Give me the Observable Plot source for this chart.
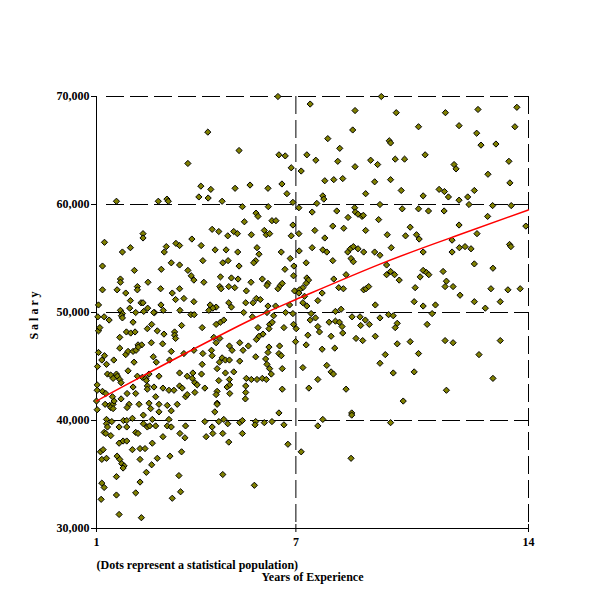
<!DOCTYPE html>
<html>
<head>
<meta charset="utf-8">
<script src="https://cdn.jsdelivr.net/npm/d3@7"></script>
<script src="https://cdn.jsdelivr.net/npm/@observablehq/plot@0.6"></script>
<style>
  body { margin: 0; background: white; }
</style>
</head>
<body>
<div id="chart"></div>
<script>
// [years of experience, salary]
const points = [
  [1.60,60300],[2.86,60300],[3.12,60500],[3.16,60300],[3.75,63800],[4.14,61700],[4.44,61400],[4.08,60700],[4.36,60600],[4.78,60300],
  [4.35,66700],[5.17,61500],[2.40,57300],[4.48,57700],[4.68,57500],[4.95,57100],[5.13,57500],
  [1.24,56500],[2.40,56900],[3.87,56800],[3.39,56400],[3.50,56200],[4.15,56200],[3.10,56100],[3.04,55600],[2.02,56000],[1.78,55600],
  [4.57,55800],[4.90,55800],[5.25,55600],[1.18,54300],[2.14,53900],[2.95,54000],[3.25,54600],[3.50,54400],[4.20,54800],[4.80,54600],
  [4.96,54800],[3.75,53900],[3.85,53400],[3.93,53000],[4.23,52800],[1.72,53100],[1.72,52800],[2.55,52800],[4.73,53300],[5.06,53200],
  [1.18,52100],[1.62,52100],[1.88,51800],[2.23,52400],[2.23,52100],[2.93,52200],[3.50,52200],[3.28,51800],[3.38,51200],[3.63,51300],
  [3.93,51000],[4.71,52400],[4.75,52200],[4.98,52400],[5.16,52300],[2.02,51100],[2.34,50900],[2.40,50900],[2.00,50400],[2.54,50400],
  [2.94,50700],[3.51,50200],[2.75,50000],[3.01,50200],[4.42,50700],[4.60,50500],[4.50,50400],[4.98,50900],[5.06,50500],[1.06,50700],
  [1.72,50200],[1.78,49900],[2.18,50000],[2.42,50100],[2.72,50000],[3.84,49800],[3.94,49800],[4.38,50200],[1.04,49600],[1.23,49600],
  [1.38,49300],[1.75,49700],[1.78,49500],[2.10,49100],[2.66,48900],[2.53,48500],[2.83,48300],[3.03,48000],[1.90,48200],[2.03,48100],
  [2.16,48200],[1.06,48300],[1.10,48600],[3.56,48800],[4.18,48600],[4.60,48900],[4.73,49100],[4.83,49300],[3.35,48200],[3.35,47900],
  [3.38,47600],[1.70,47700],[2.65,47200],[2.25,47000],[2.36,47000],[2.99,47100],[3.25,46400],[4.53,47700],[4.71,47600],[4.60,47200],
  [5.00,46900],[5.08,46500],[1.06,46300],[1.24,46000],[1.70,46700],[1.88,46100],[1.95,46400],[2.10,46400],[2.19,46500],[2.26,46800],
  [1.16,45600],[1.30,45200],[1.52,45600],[2.13,45400],[2.71,45900],[2.80,45400],[3.20,45600],[3.63,46200],[3.93,46500],[4.20,46200],
  [4.46,46500],[4.48,46000],[4.78,45800],[4.88,45600],[5.00,45600],[4.70,45400],[4.18,45200],[4.63,44800],[4.88,44400],[5.13,44500],
  [1.33,44300],[1.43,44200],[1.60,44300],[1.63,44100],[1.50,43900],[1.70,43800],[1.95,44600],[2.23,44100],[2.38,44000],[2.48,43900],
  [2.58,44300],[2.50,43700],[2.88,44100],[3.50,44400],[3.73,44100],[3.90,44400],[3.88,43900],[4.16,44300],[4.68,43700],[5.00,43800],
  [1.03,45000],[1.02,43300],
  [1.02,42800],[1.18,42700],[1.28,42500],[1.00,41800],[1.02,41000],[1.26,41500],[1.40,41400],[1.50,41500],[1.53,41800],[1.48,42200],
  [1.43,41200],[1.50,41100],[1.74,42000],[1.92,42500],[1.98,41500],[1.92,41200],[2.10,43100],[2.18,42500],[1.74,43500],[2.28,41500],
  [2.53,43200],[2.53,42900],[2.73,43100],[2.78,42200],[2.58,41600],[2.63,41100],[2.88,41500],[2.88,40800],[3.00,43000],[3.18,42800],
  [3.33,42800],[3.13,41400],[3.25,40900],[3.43,41500],[3.50,43200],[3.58,43000],[3.68,42200],[3.73,42400],[3.96,43500],[4.03,43300],
  [3.96,42600],[4.26,43000],[4.63,42700],[4.60,42400],[4.63,41600],[4.63,41500],[4.56,40800],[4.93,43100],[5.01,43300],[5.01,42500],
  [1.30,40100],[1.30,39700],[1.33,39400],[1.23,38900],[1.28,38800],[1.43,38600],[1.46,39900],[1.68,39400],[1.81,40000],[1.91,40000],
  [1.91,39400],[2.08,40200],[2.18,38900],[2.25,38800],[2.41,40500],[2.41,39700],[2.53,39400],[2.60,39500],[2.68,40100],[2.78,39500],
  [3.00,38500],[3.13,39500],[3.18,40100],[3.25,39400],[3.68,39500],[3.51,38800],[3.66,38400],[4.26,39900],[4.48,39400],[4.68,39900],
  [4.83,40100],[4.95,39700],[4.50,38800],[4.30,38500],[4.80,38800],[4.98,38000],
  [1.68,37900],[1.80,38100],[1.91,38100],[2.08,37300],[2.31,37400],[2.46,37400],[2.68,37900],[1.12,37100],[1.20,37300],[1.16,36400],
  [1.30,36500],[1.62,36700],[1.70,36400],[1.76,36000],[1.83,35800],[1.80,35600],[2.31,36400],[2.66,35900],[2.83,36500],[3.21,36700],
  [3.56,37100],[2.50,35200],[1.60,34800],[2.31,34300],[1.16,34200],[1.23,33800],[1.60,33100],[2.18,33300],[3.48,34900],[3.53,33400],
  [3.28,32800],[1.14,32700],[1.68,31300],[2.35,31000],[4.80,35000],
  [6.46,70000],[7.43,69300],[8.78,68700],[8.71,66900],[7.96,66100],[8.32,65200],[5.29,65000],[6.49,64600],[6.68,64500],[7.33,64600],
  [7.60,64100],[8.26,64000],[8.78,63500],[9.25,64100],[9.46,63700],[6.86,63400],[7.16,63100],[7.87,62200],[8.14,62300],[8.41,62400],
  [9.37,62100],[5.62,61800],[6.16,61500],[6.58,61900],[6.73,61000],[7.81,60800],[7.84,60500],[9.10,61000],[6.91,60200],[7.09,59700],
  [7.63,60100],[8.23,59400],[8.77,59700],[8.79,59300],[8.87,59100],[8.99,58900],[9.03,59000],[8.57,58800],[9.49,58600],[9.53,60000],
  [7.49,59300],[5.39,59800],[6.17,59800],[5.80,59200],[5.86,58900],[5.45,58400],[6.28,58500],[6.40,58500],[6.91,58100],[8.11,58000],
  [8.44,57800],[9.10,57600],[5.24,57300],[5.66,57200],[6.05,57600],[6.11,57200],[6.21,57300],[6.86,57100],[7.09,57300],[7.57,57600],
  [7.87,56900],[9.57,70000],
  [5.83,56000],[5.89,55400],[6.56,55600],[7.10,55700],[7.49,56000],[7.81,55800],[7.93,55600],[8.56,55600],[8.64,55900],[8.73,56100],
  [8.87,55900],[9.04,55600],[9.37,55600],[9.53,55300],[8.66,55000],[8.73,54700],[5.79,54800],[5.73,54600],[5.29,54300],[6.83,55000],
  [7.31,54600],[8.11,54800],[6.67,54000],[6.94,54300],[6.93,53400],[5.26,53100],[5.65,52800],[5.99,53100],[6.16,52700],[6.13,52500],
  [6.46,52200],[6.53,52500],[6.59,52700],[7.33,53200],[7.38,53000],[7.31,52700],[7.21,52300],[8.14,53100],[8.51,53500],[8.29,52300],
  [8.43,52200],[9.04,52100],[9.11,52200],[9.19,52400],[5.51,52000],[6.96,52000],[7.11,52100],[7.09,51800],[7.79,51800],[7.66,51100],
  [7.26,51500],[5.81,51300],[5.93,51200],[5.49,50900],[5.71,50900],[6.16,50600],[6.39,50600],[6.81,50700],[7.21,50900],[7.33,50600],
  [8.19,50100],[8.36,50300],[9.39,50700],[5.43,50000],[5.69,49600],[6.13,50000],[6.33,49700],[6.69,50000],[6.91,49900],[7.46,49900],
  [7.59,49500],[7.43,49300],[8.00,49100],[8.19,49200],[8.31,49100],[8.39,48700],[8.69,49600],[8.93,49600],[9.09,49300],[9.21,48900],
  [9.53,49500],[8.95,48800],[5.86,48600],[6.21,48900],[6.29,49100],[6.19,48500],[6.64,48600],[6.93,48900],[7.01,48500],[7.66,48700],
  [7.71,48200],[7.36,47900],[8.06,47800],[8.41,48100],[8.81,47600],[9.01,47400],[9.39,47800],[5.89,47800],[6.01,48000],[5.81,47500],
  [5.31,47200],[5.57,46900],[5.41,46500],[6.19,46800],[6.51,46900],[6.99,47300],[7.31,47000],[7.79,46600],[8.17,46700],[5.79,45900],
  [6.16,46300],[6.49,46200],[6.56,46000],[6.09,45700],[6.13,45200],[6.21,44800],[5.31,45500],[6.59,44800],[7.21,44900],[7.93,45100],
  [8.06,44500],[8.13,44300],[6.26,44300],[5.51,43900],[5.66,43800],[5.83,43800],[5.99,43900],[6.11,43800],[7.66,43800],[9.53,45300],
  [5.49,43200],[5.49,42600],[5.48,42000],[6.59,42900],[7.39,43000],[8.51,42900],[6.49,40700],[5.31,39800],[5.39,40000],[5.79,39900],
  [5.77,39600],[6.05,39800],[6.28,39900],[6.64,39600],[5.39,38800],[7.81,40100],[7.66,39500],[8.68,40700],[8.68,40500],[6.76,37800],
  [7.16,37100],[8.66,36500],[5.75,34000],
  [10.02,68500],[11.50,68500],[12.48,68800],[13.65,69000],[10.69,67200],[11.91,67300],[13.59,67200],[12.44,66600],[9.81,65900],[9.85,65700],
  [12.57,65500],[13.02,65600],[10.89,64600],[9.99,64200],[10.27,64200],[11.76,63700],[11.82,63300],[13.41,64000],[12.78,62800],[9.85,62300],
  [13.44,62000],[10.17,61300],[11.31,61400],[11.47,61200],[10.83,60800],[11.59,60700],[12.37,61300],[11.91,60400],[12.17,60700],[12.21,60000],
  [12.92,59900],[13.48,59900],[10.20,59600],[10.69,59600],[10.99,59400],[11.46,59400],[10.44,57900],[11.91,58100],[12.77,58900],[13.92,58000],
  [9.75,57200],[10.30,57100],[10.63,57200],[12.45,57300],
  [10.71,56800],[9.87,56000],[9.73,54400],[10.83,55600],[11.70,55600],[11.70,56700],[11.92,56000],[12.09,56100],[12.27,55900],[13.43,56300],
  [13.47,56100],[12.37,54500],[12.93,54100],[9.85,53800],[9.73,53500],[9.97,53500],[10.11,53000],[10.83,53900],[10.93,53700],[11.00,53500],
  [10.74,53300],[11.43,53800],[11.53,52900],[11.49,52400],[11.73,52400],[10.59,52300],[11.94,51600],[12.87,52200],[13.38,52100],[13.75,52200],
  [10.56,51000],[10.83,50600],[11.20,50700],[12.37,51000],[13.15,51000],[12.70,50400],[9.79,49800],[9.93,49700],[11.10,49900],[10.05,49000],
  [9.99,48600],[10.95,48900],[10.05,47100],[10.44,47300],[11.49,47400],[11.73,47200],[13.15,47400],[9.69,46100],[10.69,46200],[12.51,46100],
  [9.93,44400],[10.56,44500],[12.93,43900],
  [11.53,42800],[10.23,41800],[9.85,39800]
];

// fitted trend line, read at a few positions
const fitYears = [1, 2.13, 5.27, 7, 9.55, 11.83, 14];
const fitSalary = [41800, 43700, 48750, 51200, 54500, 57100, 59500];

const xTicks = [1, 7, 14];
const yTicks = [30000, 40000, 50000, 60000, 70000];
const xGrid = [7, 14];
const yGrid = [40000, 50000, 60000, 70000];

const data = points.map(([years, salary]) => ({years, salary}));
const fit = fitYears.map((years, i) => ({years, salary: fitSalary[i]}));

const chart = Plot.plot({
  width: 600,
  height: 600,
  marginLeft: 96,
  marginRight: 72,
  marginTop: 96,
  marginBottom: 72,
  style: {
    fontFamily: "'Liberation Serif', 'Times New Roman', serif",
    fontSize: "12px",
    fontWeight: "bold",
    color: "black",
    background: "white"
  },
  x: {domain: [1, 14], ticks: xTicks, tickSize: 4, tickPadding: 5, label: null},
  y: {domain: [30000, 70000], ticks: yTicks, tickFormat: d3.format(","), tickSize: 5, tickPadding: 2, label: null},
  marks: [
    Plot.ruleY(yGrid, {stroke: "black", strokeDasharray: "18,6", insetLeft: 10}),
    Plot.ruleX(xGrid, {stroke: "black", strokeDasharray: "18,6"}),
    Plot.ruleX([1], {stroke: "black"}),
    Plot.ruleY([30000], {stroke: "black"}),
    Plot.ruleX(xTicks, {y1: 30000, y2: 30000, insetTop: -4, stroke: "black"}),
    Plot.dot(data, {
      x: "years",
      y: "salary",
      symbol: "diamond2",
      r: 2.8,
      fill: "#808000",
      stroke: "black",
      strokeWidth: 1
    }),
    Plot.line(fit, {x: "years", y: "salary", stroke: "red", strokeWidth: 1.5, curve: "natural"}),
    Plot.text(["(Dots represent a statistical population)"], {
      text: d => d, frameAnchor: "bottom-left", textAnchor: "start", dy: 40
    }),
    Plot.text(["Years of Experience"], {text: d => d, frameAnchor: "bottom", dy: 52}),
    Plot.text(["S a l a r y"], {
      text: d => d, frameAnchor: "left", textAnchor: "middle", rotate: -90, dx: -62, dy: 3
    })
  ]
});

document.getElementById("chart").append(chart);
</script>
</body>
</html>
